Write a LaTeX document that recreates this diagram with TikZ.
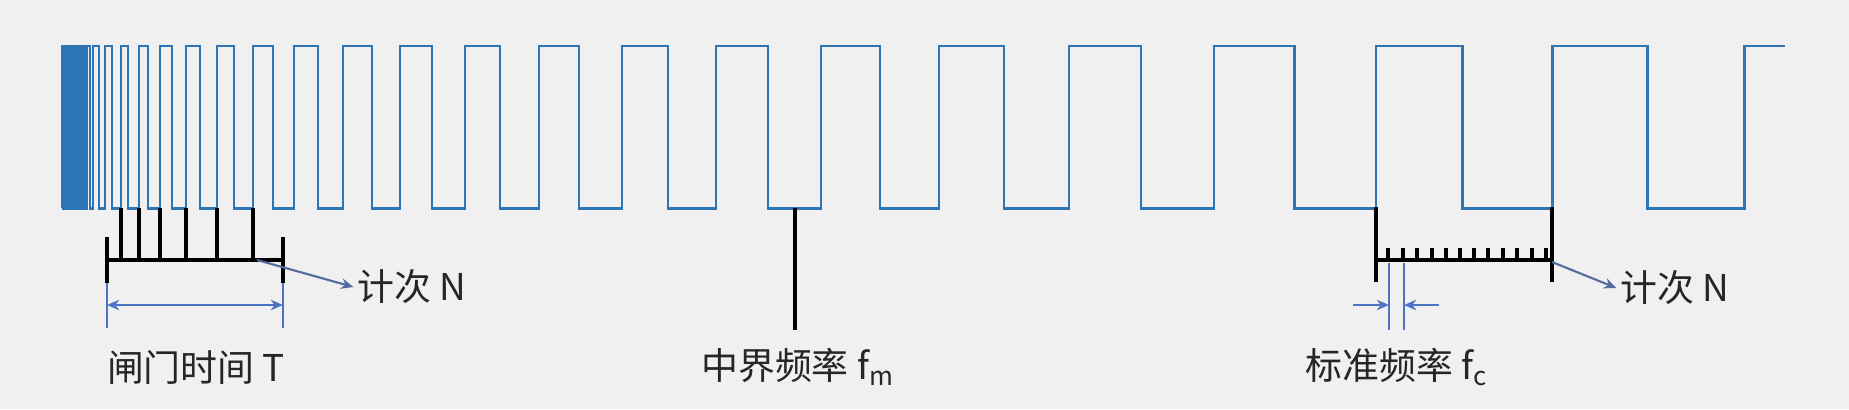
\documentclass[tikz,border=0pt]{standalone}
\usepackage{fontspec}
\usepackage{tikz}
\usetikzlibrary{arrows.meta}
\newfontfamily\cjk{Noto Sans CJK SC}
\definecolor{wave}{rgb}{0.18, 0.46, 0.71}
\definecolor{dimblue}{rgb}{0.30, 0.45, 0.77}
\definecolor{pointblue}{rgb}{0.33, 0.42, 0.62}
\definecolor{backgray}{rgb}{0.94, 0.94, 0.94}

\begin{document}
\begin{tikzpicture}[
  txt/.style={font=\cjk\fontsize{10.5}{12}\selectfont, text=black!85, inner sep=1pt},
  bar/.style={line width=1.2pt},
  dim/.style={dimblue, line width=0.5pt},
  tip/.style={-{Stealth[length=3.5pt,width=3pt]}}
]
\fill[backgray] (0,0) rectangle (18.49,4.09);
\useasboundingbox (0,0) rectangle (18.49,4.09);
% signal
\draw[wave, line width=0.85pt]
  (0.62,2.01) |- (0.6375,3.63) |- (0.655,2.01) |- (0.6725,3.63) |- (0.69,2.01) |- (0.71,3.63)
  |- (0.73,2.01) |- (0.75,3.63) |- (0.77,2.01) |- (0.795,3.63) |- (0.82,2.01) |- (0.845,3.63)
  |- (0.87,2.01) |- (0.90,3.63) |- (0.93,2.01) |- (0.99,3.63) |- (1.05,2.01) |- (1.12,3.63)
  |- (1.21,2.01) |- (1.28,3.63) |- (1.39,2.01) |- (1.48,3.63) |- (1.60,2.01) |- (1.72,3.63)
  |- (1.86,2.01) |- (2.00,3.63) |- (2.17,2.01) |- (2.34,3.63) |- (2.53,2.01) |- (2.73,3.63)
  |- (2.94,2.01) |- (3.18,3.63) |- (3.43,2.01) |- (3.72,3.63) |- (4.00,2.01) |- (4.32,3.63)
  |- (4.65,2.01) |- (5.00,3.63) |- (5.39,2.01) |- (5.79,3.63) |- (6.22,2.01) |- (6.68,3.63)
  |- (7.16,2.01) |- (7.68,3.63) |- (8.21,2.01) |- (8.80,3.63) |- (9.39,2.01) |- (10.04,3.63)
  |- (10.69,2.01) |- (11.41,3.63) |- (12.14,2.01) |- (12.94,3.63) |- (13.76,2.01) |- (14.62,3.63)
  |- (15.52,2.01) |- (16.47,3.63) |- (17.44,2.01) |- (17.85,3.63);
% gate time
\draw[bar] (1.07,1.72) -- (1.07,1.26);
\draw[bar] (2.83,1.72) -- (2.83,1.26);
\draw[bar] (1.07,1.49) -- (2.83,1.49);
\draw[bar] (1.21,2.01) -- (1.21,1.49) (1.39,2.01) -- (1.39,1.49) (1.60,2.01) -- (1.60,1.49)
  (1.86,2.01) -- (1.86,1.49) (2.17,2.01) -- (2.17,1.49) (2.53,2.01) -- (2.53,1.49);
\draw[dim] (1.07,1.26) -- (1.07,0.81);
\draw[dim] (2.83,1.26) -- (2.83,0.81);
\coordinate (gatel) at (1.07,1.04);
\coordinate (gater) at (2.83,1.04);
\draw[dim, {Stealth[length=3.5pt,width=3pt]}-{Stealth[length=3.5pt,width=3pt]}] (gatel) -- (gater);
\node[txt] (gate) at (1.96,0.42) {闸门时间 T};
\node[txt] (countL) at (4.12,1.22) {计次 N};
\coordinate (gateend) at (2.57,1.49);
\draw[pointblue, line width=0.6pt, tip] (gateend) -- (countL.west);
% middle
\coordinate (fmtop) at (7.95,2.01);
\node[txt] (fmid) at (7.98,0.42) {中界频率 f\textsubscript{m}};
\draw[bar] (fmtop) -- (7.95,0.79);
% standard clock
\draw[bar] (13.76,2.02) -- (13.76,1.27);
\draw[bar] (15.52,2.02) -- (15.52,1.27);
\draw[bar] (13.76,1.49) -- (15.52,1.49);
\draw[bar] (13.88,1.49) -- (13.88,1.61) (14.03,1.49) -- (14.03,1.61) (14.17,1.49) -- (14.17,1.61)
  (14.32,1.49) -- (14.32,1.61) (14.46,1.49) -- (14.46,1.61) (14.60,1.49) -- (14.60,1.61)
  (14.74,1.49) -- (14.74,1.61) (14.88,1.49) -- (14.88,1.61) (15.03,1.49) -- (15.03,1.61)
  (15.17,1.49) -- (15.17,1.61) (15.32,1.49) -- (15.32,1.61) (15.46,1.49) -- (15.46,1.61);
\draw[dim] (13.89,1.46) -- (13.89,0.79);
\draw[dim] (14.04,1.46) -- (14.04,0.79);
\coordinate (stdl) at (13.53,1.04);
\coordinate (stdr) at (14.39,1.04);
\draw[dim, tip] (stdl) -- (13.89,1.04);
\draw[dim, tip] (stdr) -- (14.04,1.04);
\node[txt] (fstd) at (13.97,0.42) {标准频率 f\textsubscript{c}};
\node[txt] (countR) at (16.75,1.21) {计次 N};
\coordinate (stdend) at (15.52,1.47);
\draw[pointblue, line width=0.6pt, tip] (stdend) -- (countR.west);
\end{tikzpicture}
\end{document}
